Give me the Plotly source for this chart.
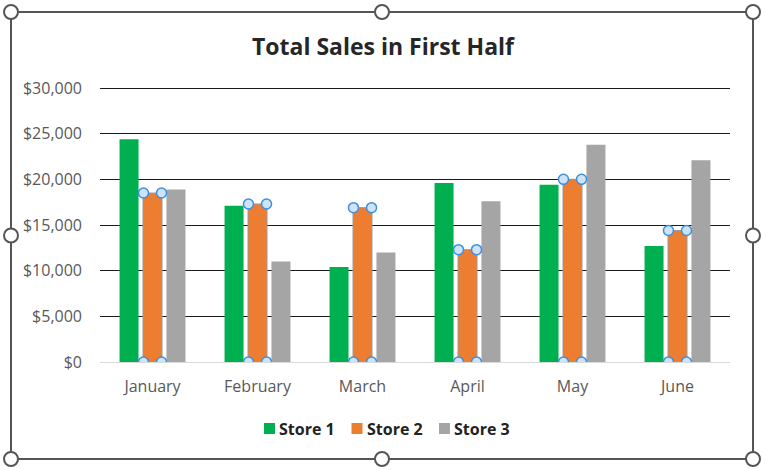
import plotly.graph_objects as go

months = ["January", "February", "March", "April", "May", "June"]
store1 = [24400, 17100, 10400, 19600, 19400, 12700]
store2 = [18500, 17300, 16900, 12300, 20000, 14400]
store3 = [18900, 11000, 12000, 17600, 23800, 22100]
y_ticks = [0, 5000, 10000, 15000, 20000, 25000, 30000]
series_names = ["Store 1", "Store 2", "Store 3"]
colors = ["#00B050", "#ED7D31", "#A5A5A5"]

W, H = 766, 470
L, R, T, B = 100, 730, 88, 362  # plot area in px

def px_x(p):
    return (p - L) / (R - L)

def px_y(p):
    return (B - p) / (B - T)

fig = go.Figure()
for name, vals, col in zip(series_names, [store1, store2, store3], colors):
    line = dict(width=1, color="#9a9a9a") if name == "Store 2" else dict(width=0)
    fig.add_trace(go.Bar(x=months, y=vals, name=name, marker=dict(color=col, line=line),
                         showlegend=False))

# selection handles on Store 2 bars (on an overlay numeric axis)
hx, hy = [], []
off = 0.086
for i, v in enumerate(store2):
    for dx in (-off, off):
        hx += [i + dx, i + dx]
        hy += [v, 0]
fig.add_trace(go.Scatter(x=hx, y=hy, mode="markers", xaxis="x2", showlegend=False,
                         hoverinfo="skip",
                         marker=dict(size=10, color="#cfe3f7", line=dict(color="#3d8fe0", width=1.5))))

font_fam = "Open Sans, Lato, sans-serif"
fig.update_layout(
    width=W, height=H,
    margin=dict(l=L, r=W - R, t=T, b=H - B),
    paper_bgcolor="white", plot_bgcolor="white",
    barmode="group", bargap=0.33, bargroupgap=0.19,
    title=dict(text="<b>Total Sales in First Half</b>", x=0.5, xanchor="center",
               y=1 - 47 / H, yanchor="middle",
               font=dict(family=font_fam, size=23, color="#262626")),
    xaxis=dict(showgrid=False, showline=False, ticks="",
               tickfont=dict(family=font_fam, size=16, color="#595959"),
               ticklabelstandoff=13),
    xaxis2=dict(overlaying="x", range=[-0.5, 5.5], visible=False),
    yaxis=dict(range=[0, y_ticks[-1]], tickmode="array", tickvals=y_ticks,
               ticktext=["${:,}".format(v) for v in y_ticks],
               showgrid=True, gridcolor="#1a1a1a", gridwidth=1,
               zeroline=True, zerolinecolor="#d9d9d9", zerolinewidth=1,
               tickfont=dict(family=font_fam, size=16, color="#595959"), ticklabelstandoff=17),
    showlegend=False,
)

shapes = []
annotations = []
# top gridline at the axis maximum (plotly skips gridlines on the range edge)
half_px = 0.5 * y_ticks[-1] / (B - T)
shapes.append(dict(type="line", xref="paper", yref="y", x0=0, x1=1,
                   y0=y_ticks[-1] - half_px, y1=y_ticks[-1] - half_px,
                   line=dict(color="#1a1a1a", width=1), layer="below"))

# legend (drawn manually to match the compact Excel spacing)
leg_x0, leg_pitch, leg_y, sq = 264, 87.5, 428.5, 11
for k, (name, col) in enumerate(zip(series_names, colors)):
    sx = leg_x0 + k * leg_pitch
    shapes.append(dict(type="rect", xref="paper", yref="paper",
                       x0=px_x(sx), x1=px_x(sx + sq), y0=px_y(leg_y + sq / 2), y1=px_y(leg_y - sq / 2),
                       line=dict(width=0), fillcolor=col))
    annotations.append(dict(xref="paper", yref="paper", x=px_x(sx + sq + 2), y=px_y(leg_y),
                            xanchor="left", yanchor="middle", showarrow=False, text="<b>%s</b>" % name,
                            font=dict(family=font_fam, size=16, color="#222222")))

# chart frame and handles
fx0, fx1, fy0, fy1 = 11, 753, 12, 459
shapes.append(dict(type="rect", xref="paper", yref="paper",
                   x0=px_x(fx0), x1=px_x(fx1), y0=px_y(fy1), y1=px_y(fy0),
                   line=dict(color="#555555", width=2), fillcolor="rgba(0,0,0,0)", layer="below"))
r = 7
midx = (fx0 + fx1) / 2
midy = (fy0 + fy1) / 2
for cx, cy in [(fx0, fy0), (midx, fy0), (fx1, fy0), (fx0, midy), (fx1, midy),
               (fx0, fy1), (midx, fy1), (fx1, fy1)]:
    shapes.append(dict(type="circle", xref="paper", yref="paper",
                       x0=px_x(cx - r), x1=px_x(cx + r), y0=px_y(cy + r), y1=px_y(cy - r),
                       line=dict(color="#555555", width=2), fillcolor="white", layer="above"))
fig.update_layout(shapes=shapes, annotations=annotations)

fig.write_html("out.html")
